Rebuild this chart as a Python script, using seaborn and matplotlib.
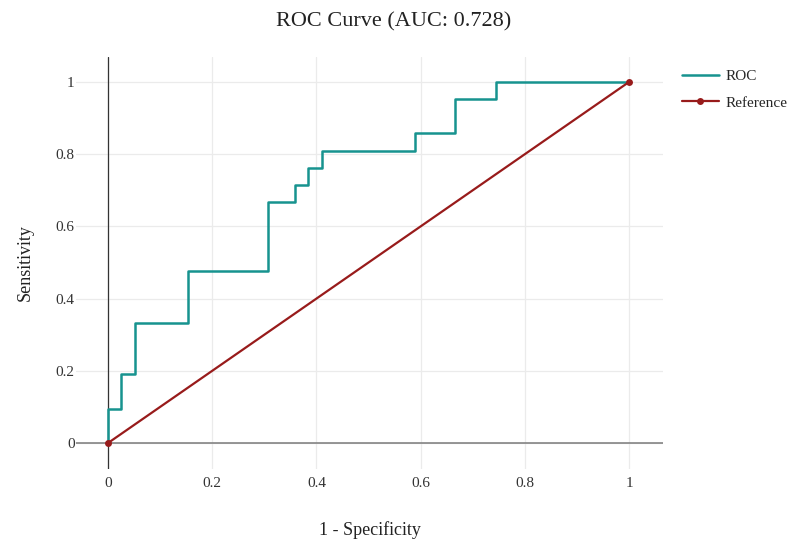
import numpy as np
import pandas as pd
import matplotlib
matplotlib.use('Agg')
import matplotlib.pyplot as plt
import seaborn as sns

# ROC step points (39 negatives, 21 positives)
N_NEG = 39
N_POS = 21
fp_counts = [0, 0, 1, 2, 6, 12, 14, 15, 16, 23, 26, 29, 39]
tp_counts = [0, 2, 4, 7, 10, 14, 15, 16, 17, 18, 20, 21, 21]
ref_x = [0, 1]
ref_y = [0, 1]
TITLE = 'ROC Curve (AUC: 0.728)'

ROC_COLOR = '#17938f'
REF_COLOR = '#981b1b'

sns.set_theme(style='white')
plt.rcParams['font.family'] = ['Liberation Serif', 'DejaVu Serif']

roc = pd.DataFrame({
  'fpr': np.array(fp_counts) / N_NEG,
  'tpr': np.array(tp_counts) / N_POS,
})
ref = pd.DataFrame({'x': ref_x, 'y': ref_y})

fig = plt.figure(figsize=(7.92, 5.42), dpi=100)
ax = fig.add_axes([76 / 792, 73 / 542, 587 / 792, 412 / 542])

ax.grid(True, color='#ebebeb', linewidth=0.9)
ax.set_axisbelow(True)
ax.axhline(0, color='#7a7a7a', linewidth=1.1, zorder=1)
ax.axvline(0, color='#333333', linewidth=0.9, zorder=1)

sns.lineplot(data=roc, x='fpr', y='tpr', estimator=None, sort=False,
             drawstyle='steps-post', color=ROC_COLOR, linewidth=1.8,
             label='ROC', ax=ax, zorder=3)
sns.lineplot(data=ref, x='x', y='y', estimator=None, sort=False,
             color=REF_COLOR, linewidth=1.6, marker='o', markersize=5,
             markeredgewidth=0, label='Reference', ax=ax, zorder=4)

ax.set_xlim(-0.0615, 1.065)
ax.set_ylim(-0.072, 1.069)
ticks = [0, 0.2, 0.4, 0.6, 0.8, 1]
labels = ['0', '0.2', '0.4', '0.6', '0.8', '1']
ax.set_xticks(ticks, labels)
ax.set_yticks(ticks, labels)
ax.tick_params(axis='both', length=0, labelsize=11, colors='#333333')
ax.tick_params(axis='x', pad=6)
ax.tick_params(axis='y', pad=1)
for s in ax.spines.values():
  s.set_visible(False)

ax.set_xlabel('1 - Specificity', fontsize=13, labelpad=22, color='#222222')
ax.set_ylabel('Sensitivity', fontsize=13, labelpad=16, color='#222222')
fig.suptitle(TITLE, fontsize=16, x=0.497, y=0.978, color='#222222')

ax.legend(loc='upper left', bbox_to_anchor=(1.022, 0.985), frameon=False,
          fontsize=11, handlelength=2.4, handletextpad=0.45, labelspacing=0.85,
          borderaxespad=0.0)

fig.savefig('out.png', dpi=100)
